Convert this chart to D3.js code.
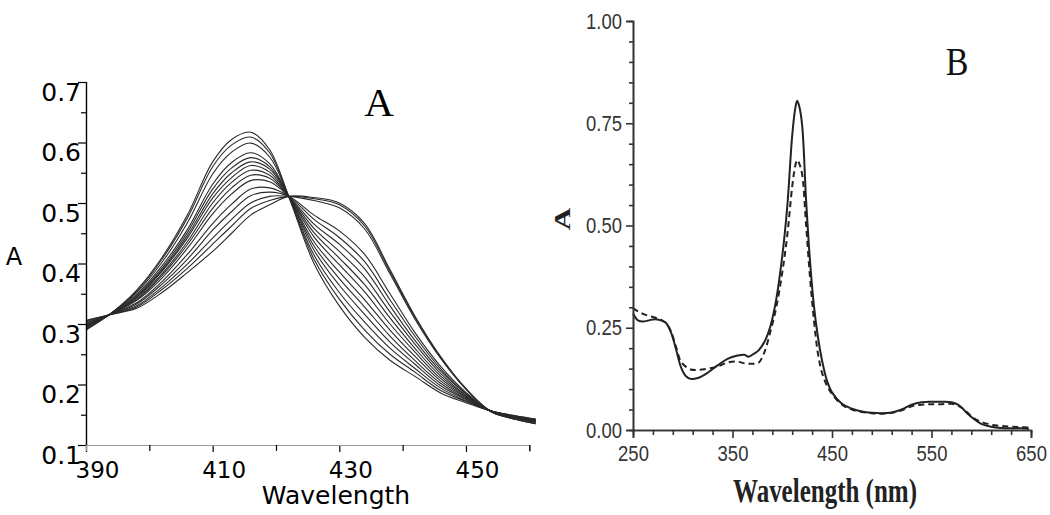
<!DOCTYPE html>
<html><head><meta charset="utf-8">
<script src="https://cdn.jsdelivr.net/npm/d3@7"></script>
<style>body{margin:0;background:#fff}svg{display:block}</style>
</head><body>
<svg id="c" width="1050" height="515"></svg>
<script>
// ---------- Panel A data (15 spectra of a titration) ----------
const wlA = [390,394,398,402,406,410,413,416,419,422,426,430,434,438,442,446,450,454,458,461];
const specA01 = [0.290,0.318,0.356,0.410,0.480,0.568,0.605,0.617,0.588,0.511,0.400,0.330,0.278,0.240,0.213,0.186,0.170,0.156,0.148,0.143];
const specA02 = [0.291,0.318,0.354,0.407,0.475,0.560,0.596,0.609,0.583,0.511,0.407,0.341,0.290,0.250,0.220,0.190,0.172,0.156,0.148,0.143];
const specA03 = [0.292,0.318,0.352,0.402,0.467,0.548,0.584,0.599,0.576,0.511,0.414,0.352,0.303,0.260,0.226,0.194,0.173,0.156,0.147,0.142];
const specA04 = [0.294,0.318,0.349,0.396,0.456,0.531,0.567,0.583,0.565,0.511,0.422,0.364,0.316,0.270,0.233,0.198,0.175,0.156,0.147,0.141];
const specA05 = [0.295,0.317,0.347,0.392,0.451,0.523,0.558,0.575,0.560,0.511,0.429,0.375,0.328,0.280,0.239,0.202,0.176,0.156,0.146,0.141];
const specA06 = [0.296,0.317,0.345,0.389,0.446,0.515,0.550,0.568,0.556,0.511,0.436,0.386,0.340,0.290,0.246,0.206,0.178,0.156,0.146,0.140];
const specA07 = [0.296,0.317,0.344,0.387,0.442,0.508,0.542,0.562,0.551,0.511,0.444,0.398,0.353,0.300,0.253,0.210,0.179,0.156,0.146,0.140];
const specA08 = [0.297,0.317,0.342,0.383,0.436,0.500,0.534,0.554,0.546,0.511,0.451,0.409,0.365,0.310,0.259,0.214,0.181,0.156,0.145,0.139];
const specA09 = [0.298,0.317,0.340,0.380,0.431,0.491,0.525,0.546,0.541,0.511,0.458,0.420,0.378,0.320,0.266,0.218,0.182,0.156,0.145,0.139];
const specA10 = [0.299,0.317,0.339,0.376,0.425,0.482,0.515,0.537,0.535,0.511,0.465,0.432,0.391,0.330,0.272,0.222,0.184,0.155,0.144,0.138];
const specA11 = [0.301,0.317,0.335,0.370,0.415,0.466,0.498,0.523,0.525,0.511,0.473,0.443,0.403,0.340,0.279,0.226,0.185,0.155,0.144,0.138];
const specA12 = [0.302,0.316,0.333,0.366,0.407,0.455,0.486,0.512,0.518,0.511,0.480,0.454,0.415,0.350,0.285,0.230,0.187,0.155,0.144,0.137];
const specA13 = [0.304,0.316,0.330,0.361,0.399,0.442,0.473,0.500,0.511,0.511,0.504,0.492,0.457,0.383,0.307,0.243,0.192,0.155,0.142,0.135];
const specA14 = [0.305,0.316,0.328,0.357,0.392,0.432,0.462,0.491,0.504,0.511,0.507,0.497,0.462,0.387,0.310,0.245,0.193,0.155,0.142,0.135];
const specA15 = [0.306,0.316,0.326,0.352,0.385,0.420,0.450,0.480,0.497,0.511,0.509,0.500,0.466,0.390,0.312,0.246,0.193,0.155,0.142,0.135];
const seriesA = [specA01,specA02,specA03,specA04,specA05,specA06,specA07,specA08,specA09,specA10,specA11,specA12,specA13,specA14,specA15];
const ticksAx = [390,410,430,450];
const minorAx = [400,420,440,460];
const ticksAy = [0.1,0.2,0.3,0.4,0.5,0.6,0.7];
const minorAy = [0.15,0.25,0.35,0.45,0.55,0.65];

// ---------- Panel B data (two spectra) ----------
const wlB = [250,255,260,266,272,278,283,288,293,298,303,308,315,325,335,345,355,362,366,370,376,382,388,394,400,405,410,413,415,417,420,424,428,432,436,440,445,450,460,470,480,490,500,510,520,530,540,550,560,570,578,585,592,600,610,620,630,640,648];
const solidB = [0.285,0.268,0.265,0.268,0.271,0.268,0.262,0.240,0.200,0.155,0.132,0.125,0.127,0.140,0.158,0.174,0.182,0.184,0.179,0.184,0.194,0.215,0.253,0.320,0.425,0.545,0.720,0.785,0.805,0.792,0.745,0.560,0.410,0.300,0.225,0.170,0.120,0.092,0.064,0.052,0.045,0.042,0.041,0.043,0.050,0.062,0.068,0.069,0.069,0.068,0.060,0.043,0.028,0.015,0.008,0.005,0.004,0.004,0.003];
const dashedB = [0.298,0.290,0.284,0.279,0.275,0.270,0.262,0.242,0.205,0.168,0.155,0.148,0.147,0.150,0.155,0.165,0.167,0.163,0.162,0.162,0.164,0.190,0.240,0.300,0.385,0.475,0.595,0.645,0.660,0.652,0.625,0.500,0.370,0.265,0.185,0.140,0.108,0.088,0.062,0.050,0.044,0.041,0.040,0.042,0.048,0.058,0.062,0.063,0.063,0.064,0.058,0.045,0.030,0.020,0.013,0.010,0.008,0.007,0.006];
const ticksBx = [250,350,450,550,650];
const minorBx = [270,290,310,330,370,390,410,430,470,490,510,530,570,590,610,630];
const ticksBy = [0,0.25,0.5,0.75,1.0];
const minorBy = [0.05,0.1,0.15,0.2,0.3,0.35,0.4,0.45,0.55,0.6,0.65,0.7,0.8,0.85,0.9,0.95];

const svg = d3.select("#c");

// ================= Panel A =================
const xA = d3.scaleLinear().domain([390,460]).range([86,529.3]);
const yA = d3.scaleLinear().domain([0.1,0.7]).range([445,82]);
const gA = svg.append("g");
const lineA = d3.line().x(d=>xA(d[0])).y(d=>yA(d[1])).curve(d3.curveCatmullRom.alpha(0.5));
gA.selectAll("path.spec").data(seriesA).join("path").attr("class","spec")
  .attr("d", s => lineA(wlA.map((w,i)=>[w,s[i]])))
  .attr("fill","none").attr("stroke","#2a2a2a").attr("stroke-width",1.1);

// y axis
const ayMaj = gA.append("g").attr("transform","translate(86,0)")
  .call(d3.axisLeft(yA).tickValues(ticksAy).tickSize(8).tickFormat(d3.format(".1f")));
const ayMin = gA.append("g").attr("transform","translate(86,0)")
  .call(d3.axisLeft(yA).tickValues(minorAy).tickSize(5).tickFormat(""));
[ayMaj, ayMin].forEach(g => { g.select(".domain").attr("stroke","#000").attr("stroke-width",1.2); g.selectAll(".tick line").attr("stroke","#000").attr("stroke-width",1.2); });
ayMaj.selectAll("text").attr("x",-5).attr("dy",18).attr("fill","#000")
  .style("font-family","'DejaVu Sans', sans-serif").style("font-size","25px");
// x axis
const axMaj = gA.append("g").attr("transform","translate(0,445)")
  .call(d3.axisBottom(xA).tickValues(ticksAx).tickSize(7).tickFormat(d3.format("d")));
const axMin = gA.append("g").attr("transform","translate(0,445)")
  .call(d3.axisBottom(xA).tickValues(minorAx).tickSize(6).tickFormat(""));
[axMaj, axMin].forEach(g => { g.select(".domain").attr("stroke","#999").attr("stroke-width",1.2); g.selectAll(".tick line").attr("stroke","#000").attr("stroke-width",1.2); });
axMaj.selectAll("text").attr("x",11).attr("y",33).attr("dy",0).attr("fill","#000")
  .style("font-family","'DejaVu Sans', sans-serif").style("font-size","23px");

gA.append("text").attr("x",336).attr("y",504).attr("text-anchor","middle")
  .style("font-family","'DejaVu Sans', sans-serif").style("font-size","25px").text("Wavelength");
gA.append("text").attr("x",14).attr("y",265).attr("text-anchor","middle")
  .style("font-family","'DejaVu Sans', sans-serif").style("font-size","24px").text("A");
gA.append("text").attr("x",379).attr("y",116).attr("text-anchor","middle")
  .style("font-family","'Liberation Serif', 'Times New Roman', serif").style("font-size","41px").text("A");

// ================= Panel B =================
const xB = d3.scaleLinear().domain([250,650]).range([633,1031]);
const yB = d3.scaleLinear().domain([0,1]).range([430,21]);
const gB = svg.append("g");
const lineB = d3.line().x(d=>xB(d[0])).y(d=>yB(d[1])).curve(d3.curveCatmullRom.alpha(0.5));
gB.append("path").attr("d", lineB(wlB.map((w,i)=>[w,dashedB[i]])))
  .attr("fill","none").attr("stroke","#222").attr("stroke-width",2).attr("stroke-dasharray","6,4");
gB.append("path").attr("d", lineB(wlB.map((w,i)=>[w,solidB[i]])))
  .attr("fill","none").attr("stroke","#222").attr("stroke-width",2);

const fontB = "'Liberation Sans', Arial, sans-serif";
const byMaj = gB.append("g").attr("transform","translate(633,0)")
  .call(d3.axisLeft(yB).tickValues(ticksBy).tickSize(7).tickFormat(d3.format(".2f")));
const byMin = gB.append("g").attr("transform","translate(633,0)")
  .call(d3.axisLeft(yB).tickValues(minorBy).tickSize(4).tickFormat(""));
const bxMaj = gB.append("g").attr("transform","translate(0,430)")
  .call(d3.axisBottom(xB).tickValues(ticksBx).tickSize(8).tickFormat(d3.format("d")));
const bxMin = gB.append("g").attr("transform","translate(0,430)")
  .call(d3.axisBottom(xB).tickValues(minorBx).tickSize(5).tickFormat(""));
[byMaj,byMin,bxMaj,bxMin].forEach(g => { g.select(".domain").attr("stroke","#333").attr("stroke-width",1.6); g.selectAll(".tick line").attr("stroke","#333").attr("stroke-width",1.6); });
byMaj.selectAll("text").attr("x",-11/0.84).attr("transform","scale(0.84,1)").attr("fill","#333").style("font-family",fontB).style("font-size","22px");
bxMaj.selectAll("text").attr("y",31).attr("dy",0).attr("transform","scale(0.84,1)").attr("fill","#333").style("font-family",fontB).style("font-size","22px");

gB.append("text").attr("transform","translate(825,502) scale(1,1.35)").attr("text-anchor","middle")
  .style("font-family","'Liberation Serif', 'Times New Roman', serif").style("font-weight","bold").style("font-size","25px")
  .attr("fill","#222").text("Wavelength (nm)");
gB.append("text").attr("transform","translate(570,219) rotate(-90) scale(1.3,1)").attr("text-anchor","middle")
  .style("font-family","'Liberation Serif', 'Times New Roman', serif").style("font-weight","bold").style("font-size","24px")
  .attr("fill","#222").text("A");
gB.append("text").attr("transform","translate(957,75) scale(1,1.2)").attr("text-anchor","middle")
  .style("font-family","'Liberation Serif', 'Times New Roman', serif").style("font-size","34px")
  .attr("fill","#111").text("B");
</script>
</body></html>
